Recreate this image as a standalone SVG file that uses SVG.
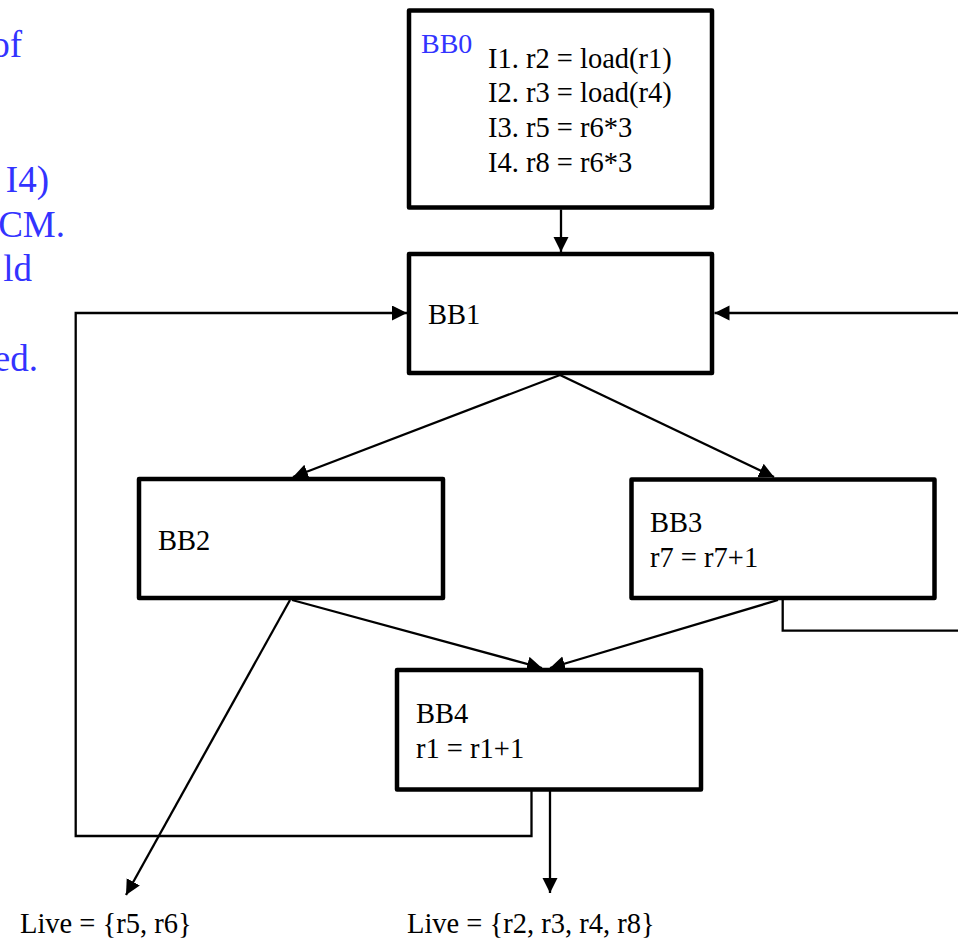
<svg xmlns="http://www.w3.org/2000/svg" width="958" height="938" viewBox="0 0 958 938">
<style>
.bb{fill:#fff;stroke:#000;stroke-width:4.5;stroke-linejoin:round}
.t{font-family:"Liberation Serif","Times New Roman",serif;font-size:28.5px;fill:#000}
.blue{fill:#3333ff}
.side{font-family:"Liberation Serif","Times New Roman",serif;font-size:37px;fill:#3333ff;text-anchor:end}
.c{fill:none;stroke:#000;stroke-width:2.3}
.a{marker-end:url(#ah)}
</style>
<defs>
<marker id="ah" markerUnits="userSpaceOnUse" markerWidth="16" markerHeight="16" refX="15" refY="7.5" orient="auto">
<path d="M0,0 L15,7.5 L0,15 z" fill="#000"/>
</marker>
</defs>
<rect width="958" height="938" fill="#fff"/>
<g id="notes">
<text class="side" x="22" y="57">of</text>
<text class="side" x="49" y="192">I4)</text>
<text class="side" x="65" y="237">CM.</text>
<text class="side" x="32" y="281">ld</text>
<text class="side" x="38" y="371">ed.</text>
</g>
<g id="connectors">
<path class="c a" d="M561,209.5 L561,252"/>
<path class="c a" d="M560,375 L293,477"/>
<path class="c a" d="M560,375 L774,477"/>
<path class="c a" d="M292,600 L542,668"/>
<path class="c a" d="M778,600 L550,668"/>
<path class="c a" d="M290,600 L126,895"/>
<path class="c a" d="M550,791 L550,893"/>
<path class="c a" d="M531.5,791 L531.5,836 L75.7,836 L75.7,313 L407,313"/>
<path class="c a" d="M782.7,600 L782.7,630.7 L966,630.7 L966,313 L714.5,313"/>
</g>
<g id="BB0">
<rect class="bb" x="409" y="10.5" width="303" height="197"/>
<text class="t blue" x="421" y="53" style="font-size:28px">BB0</text>
<text class="t" x="488" y="68">I1. r2 = load(r1)</text>
<text class="t" x="488" y="102">I2. r3 = load(r4)</text>
<text class="t" x="488" y="137">I3. r5 = r6*3</text>
<text class="t" x="488" y="172">I4. r8 = r6*3</text>
</g>
<g id="BB1">
<rect class="bb" x="409" y="254" width="303" height="119"/>
<text class="t" x="428" y="324">BB1</text>
</g>
<g id="BB2">
<rect class="bb" x="139" y="479" width="304" height="119"/>
<text class="t" x="158" y="550">BB2</text>
</g>
<g id="BB3">
<rect class="bb" x="631.5" y="479.5" width="303" height="118.5"/>
<text class="t" x="650" y="532">BB3</text>
<text class="t" x="650" y="567">r7 = r7+1</text>
</g>
<g id="BB4">
<rect class="bb" x="397" y="670" width="304" height="119.5"/>
<text class="t" x="416" y="723">BB4</text>
<text class="t" x="416" y="758">r1 = r1+1</text>
</g>
<g id="live">
<text class="t" x="20" y="933">Live = {r5, r6}</text>
<text class="t" x="407" y="933">Live = {r2, r3, r4, r8}</text>
</g>
</svg>
